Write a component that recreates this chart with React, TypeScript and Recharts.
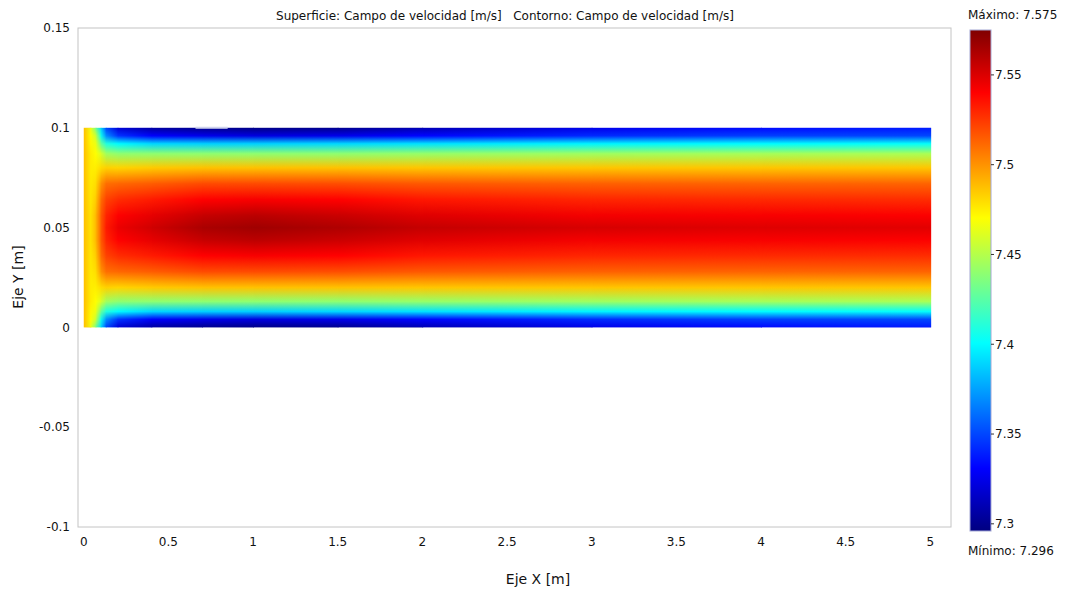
import React from "react";
import { ComposedChart, XAxis, YAxis, ReferenceArea, ReferenceLine } from "recharts";

// colour range of the surface plot
const VMIN = 7.296;
const VMAX = 7.575;

// x positions (m) where the velocity profile was read
const xCols = [0, 0.04, 0.07, 0.1, 0.13, 0.2, 0.4, 0.7, 1.0, 1.5, 2.0, 3.0, 4.0, 5.0];
// y positions (m) from the wall to the centreline; profile mirrored about y = 0.05
const yHalf = [0, 0.004, 0.008, 0.013, 0.02, 0.028, 0.036, 0.044, 0.05];
// velocity (m/s) at yHalf, one row per xCols entry
const profiles = [
  [7.488, 7.488, 7.488, 7.488, 7.488, 7.488, 7.488, 7.488, 7.488],
  [7.465, 7.47, 7.472, 7.475, 7.475, 7.476, 7.477, 7.478, 7.478],
  [7.43, 7.455, 7.465, 7.47, 7.475, 7.48, 7.485, 7.49, 7.49],
  [7.39, 7.405, 7.43, 7.46, 7.48, 7.5, 7.51, 7.515, 7.515],
  [7.35, 7.37, 7.41, 7.445, 7.483, 7.51, 7.522, 7.53, 7.533],
  [7.32, 7.345, 7.4, 7.44, 7.482, 7.512, 7.528, 7.54, 7.545],
  [7.305, 7.33, 7.39, 7.44, 7.485, 7.515, 7.533, 7.547, 7.553],
  [7.3, 7.325, 7.388, 7.44, 7.487, 7.52, 7.54, 7.556, 7.563],
  [7.298, 7.322, 7.388, 7.44, 7.487, 7.52, 7.542, 7.559, 7.566],
  [7.3, 7.325, 7.39, 7.44, 7.487, 7.519, 7.54, 7.555, 7.562],
  [7.31, 7.332, 7.393, 7.442, 7.486, 7.516, 7.534, 7.549, 7.556],
  [7.325, 7.342, 7.398, 7.444, 7.486, 7.514, 7.53, 7.543, 7.551],
  [7.333, 7.348, 7.4, 7.446, 7.486, 7.513, 7.529, 7.542, 7.549],
  [7.338, 7.35, 7.402, 7.447, 7.486, 7.513, 7.528, 7.541, 7.548],
];

const xTicks = [0, 0.5, 1, 1.5, 2, 2.5, 3, 3.5, 4, 4.5, 5];
const yTicks = [-0.1, -0.05, 0, 0.05, 0.1, 0.15];
const xDomain = [-0.034, 5.122];
const yDomain = [-0.1, 0.15];
const barTicks = [7.3, 7.35, 7.4, 7.45, 7.5, 7.55];
const jetBreaks = [0, 0.125, 0.375, 0.625, 0.875, 1];
// pale mark on the upper wall
const wallMark = [{ x: 0.66, y: 0.1 }, { x: 0.85, y: 0.1 }];

const FONT = "'DejaVu Sans', Verdana, sans-serif";
const clamp = (v: number) => Math.max(0, Math.min(1, v));

function jetT(t: number) {
  const r = clamp(1.5 - Math.abs(4 * t - 3));
  const g = clamp(1.5 - Math.abs(4 * t - 2));
  const b = clamp(1.5 - Math.abs(4 * t - 1));
  return `rgb(${Math.round(r * 255)},${Math.round(g * 255)},${Math.round(b * 255)})`;
}
const jet = (v: number) => jetT(clamp((v - VMIN) / (VMAX - VMIN)));

const yTop = 2 * yHalf[yHalf.length - 1];
// full profile from the bottom wall up to the top wall
const yFull = [...yHalf, ...yHalf.slice(0, -1).reverse().map((y) => yTop - y)];
const fullProfiles = profiles.map((p) => [...p, ...p.slice(0, -1).reverse()]);

function Defs() {
  return (
    <svg width={0} height={0} style={{ position: "absolute" }}>
      <defs>
        {fullProfiles.map((p, i) => (
          <linearGradient key={i} id={`col${i}`} x1="0" y1="0" x2="0" y2="1">
            {p
              .map((v, j) => ({ off: (yTop - yFull[j]) / yTop, v }))
              .sort((a, b) => a.off - b.off)
              .map((s, j) => (
                <stop key={j} offset={s.off} stopColor={jet(s.v)} />
              ))}
          </linearGradient>
        ))}
        <linearGradient id="jetBar" x1="0" y1="1" x2="0" y2="0">
          {jetBreaks.map((t) => (
            <stop key={t} offset={t} stopColor={jetT(t)} />
          ))}
        </linearGradient>
        <linearGradient id="fadeH" x1="0" y1="0" x2="1" y2="0">
          <stop offset="0" stopColor="#fff" stopOpacity={0} />
          <stop offset="1" stopColor="#fff" stopOpacity={1} />
        </linearGradient>
        <mask id="fadeMask" maskContentUnits="objectBoundingBox">
          <rect x={0} y={0} width={1} height={1} fill="url(#fadeH)" />
        </mask>
      </defs>
    </svg>
  );
}

// each strip: profile i underneath, profile i+1 faded in from left to right
const seg = (i: number) => (p: any) => (
  <g>
    <rect x={p.x} y={p.y} width={p.width + 0.8} height={p.height} fill={`url(#col${i})`} />
    <rect x={p.x} y={p.y} width={p.width + 0.8} height={p.height} fill={`url(#col${i + 1})`} mask="url(#fadeMask)" />
  </g>
);

const barShape = (p: any) => (
  <rect x={p.x} y={p.y} width={p.width} height={p.height} fill="url(#jetBar)" stroke="#a4a8d4" strokeWidth={1} />
);

const frameShape = (p: any) => (
  <rect x={p.x} y={p.y} width={p.width} height={p.height} fill="none" stroke="#c4c4c4" strokeWidth={1} />
);

const tickStyle = { fontSize: 12, fill: "#111", fontFamily: FONT };
const textStyle: React.CSSProperties = {
  position: "absolute", fontFamily: FONT, fontSize: 12, color: "#111", whiteSpace: "pre", lineHeight: "14px",
};

export default function App() {
  const data = xCols.map((x) => ({ x }));
  return (
    <div style={{ position: "absolute", left: 0, top: 0, width: 1067, height: 594, background: "#fff" }}>
      <Defs />
      <ComposedChart width={1067} height={594} data={data}
        margin={{ top: 28, right: 116, bottom: 37, left: 0 }}>
        <XAxis dataKey="x" type="number" domain={xDomain} ticks={xTicks} allowDataOverflow
          axisLine={false} tickLine={false} tickMargin={4} height={30} tick={tickStyle}
          interval={0} />
        <YAxis type="number" domain={yDomain} ticks={yTicks} allowDataOverflow
          axisLine={false} tickLine={false} width={78} tick={tickStyle} interval={0} />
        <ReferenceArea x1={xDomain[0]} x2={xDomain[1]} y1={yDomain[0]} y2={yDomain[1]}
          shape={frameShape} ifOverflow="visible" />
        {xCols.slice(0, -1).map((x, i) => (
          <ReferenceArea key={i} x1={x} x2={xCols[i + 1]} y1={0} y2={yTop}
            shape={seg(i)} ifOverflow="visible" />
        ))}
        <ReferenceLine segment={wallMark} stroke="#d0d4ee" strokeWidth={2} ifOverflow="visible" />
      </ComposedChart>

      <div style={{ position: "absolute", left: 950, top: 0 }}>
        <ComposedChart width={117} height={594} data={[{ v: 0 }, { v: 1 }]}
          margin={{ top: 30, right: 0, bottom: 63, left: 20 }}>
          <XAxis hide dataKey="v" type="number" domain={[0, 1]} />
          <YAxis orientation="right" type="number" domain={[VMIN, VMAX]} ticks={barTicks}
            allowDataOverflow axisLine={false} tickSize={3} tickMargin={1} stroke="#333" width={76}
            tick={{ ...tickStyle, textAnchor: "start" }} interval={0} />
          <ReferenceArea y1={VMIN} y2={VMAX} shape={barShape} ifOverflow="visible" />
        </ComposedChart>
      </div>

      <div style={{ ...textStyle, left: 0, width: 1010, top: 9, textAlign: "center" }}>
        {"Superficie: Campo de velocidad [m/s]   Contorno: Campo de velocidad [m/s]"}
      </div>
      <div style={{ ...textStyle, left: 968, top: 8 }}>{`Máximo: ${VMAX}`}</div>
      <div style={{ ...textStyle, left: 968, top: 544 }}>{`Mínimo: ${VMIN}`}</div>
      <div style={{ ...textStyle, fontSize: 14, left: 0, width: 1076, top: 572, textAlign: "center" }}>
        Eje X [m]
      </div>
      <div style={{ ...textStyle, fontSize: 14, left: 18, top: 277, transform: "translate(-50%, -50%) rotate(-90deg)" }}>
        Eje Y [m]
      </div>
    </div>
  );
}
